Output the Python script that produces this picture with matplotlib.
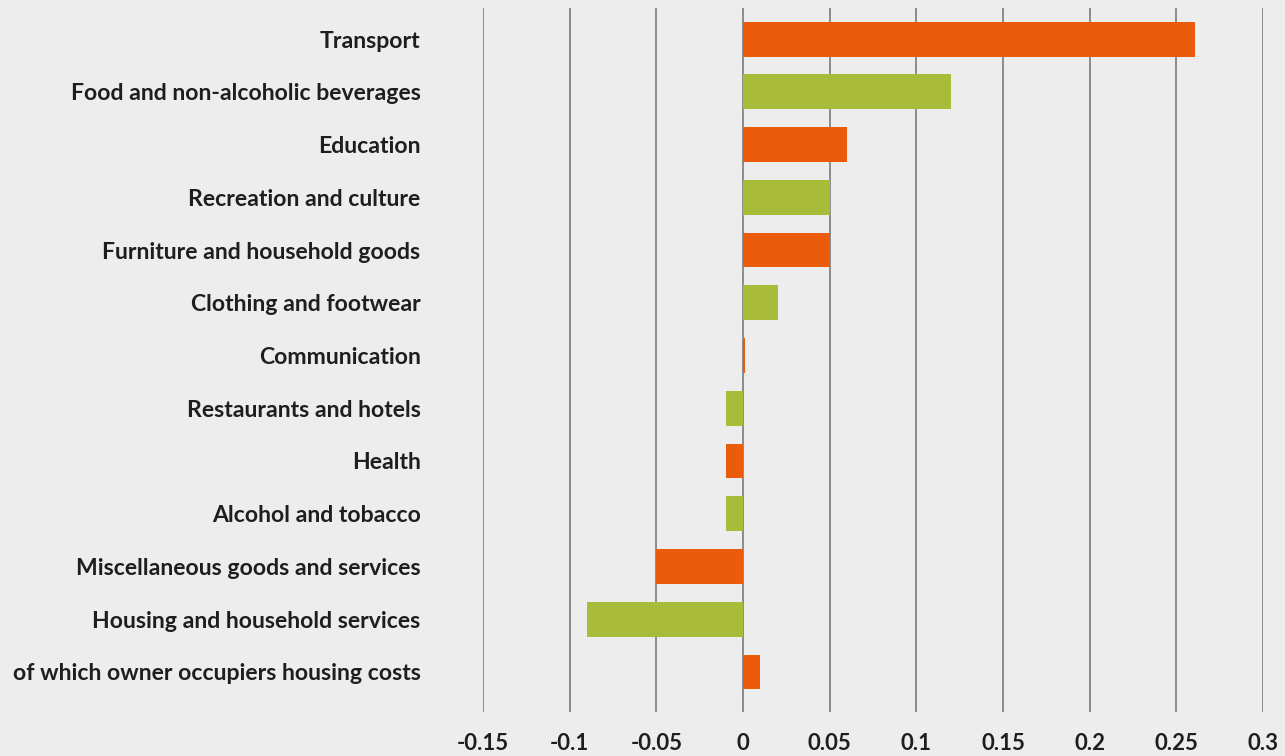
import matplotlib.pyplot as plt

# Contribution by category (percentage points)
categories = ['Transport', 'Food and non-alcoholic beverages', 'Education',
              'Recreation and culture', 'Furniture and household goods',
              'Clothing and footwear', 'Communication', 'Restaurants and hotels',
              'Health', 'Alcohol and tobacco', 'Miscellaneous goods and services',
              'Housing and household services',
              'of which owner occupiers housing costs']
values = [0.261, 0.12, 0.06, 0.05, 0.05, 0.02, 0.001, -0.01, -0.01, -0.01,
          -0.05, -0.09, 0.01]
xticks = [-0.15, -0.1, -0.05, 0, 0.05, 0.1, 0.15, 0.2, 0.25, 0.3]
xtick_labels = ['-0.15', '-0.1', '-0.05', '0', '0.05', '0.1', '0.15', '0.2', '0.25', '0.3']

orange = '#EA5B0C'
green = '#A9BC3A'
bg = '#EDEDED'
colors = [orange if i % 2 == 0 else green for i in range(len(categories))]

plt.rcParams['font.family'] = ['Lato', 'DejaVu Sans']

fig = plt.figure(figsize=(12.85, 7.56), dpi=100, facecolor=bg)
ax = fig.add_axes([0.3759, 0.0582, 0.607, 0.9312], facecolor=bg)

ypos = list(range(len(categories)))
ax.barh(ypos, values, height=0.66, color=colors, zorder=3)

ax.set_xlim(-0.15, 0.3)
ax.set_ylim(12.76, -0.59)
ax.set_xticks(xticks)
ax.set_xticklabels(xtick_labels, fontsize=16, fontweight='bold', color='#1e1e1e')
ax.set_yticks(ypos)
ax.set_yticklabels(categories, fontsize=16.6, fontweight='bold', color='#1e1e1e')
ax.tick_params(axis='x', length=0, pad=15)
ax.tick_params(axis='y', length=0, pad=45)
ax.grid(axis='x', color='#7c7c7c', linewidth=1.2, zorder=0)
for s in ax.spines.values():
    s.set_visible(False)

plt.savefig('out.png', dpi=100, facecolor=bg)
